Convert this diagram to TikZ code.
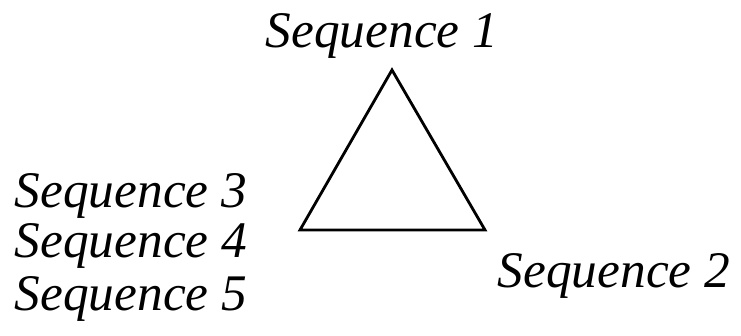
\documentclass[tikz,border=0pt]{standalone}
\usepackage{fontspec}
\setmainfont{Liberation Serif}
\usepackage{tikz}
\usetikzlibrary{positioning}
\tikzset{
  seqlabel/.style={font=\fontsize{14.6}{17}\selectfont\itshape, inner sep=0pt, anchor=base},
  triedge/.style={draw=black, line width=0.8pt, line join=miter}
}

\begin{document}
\begin{tikzpicture}[x=0.01cm, y=-0.01cm]
  \useasboundingbox (0,0) rectangle (741,336);
  % corners of the triangle
  \coordinate (apex) at (392,70);
  \coordinate (left) at (300,230);
  \coordinate (right) at (485,230);
  \draw[triedge] (apex) -- (right) -- (left) -- cycle;

  \node[seqlabel] (seqa) at (382,47) {Sequence 1};
  \node[seqlabel] (seqb) at (614,287) {Sequence 2};
  \node[seqlabel] (seqc) at (131,207) {Sequence 3};
  \node[seqlabel] (seqd) at (131,258) {Sequence 4};
  \node[seqlabel] (seqe) at (131,310) {Sequence 5};
\end{tikzpicture}
\end{document}
